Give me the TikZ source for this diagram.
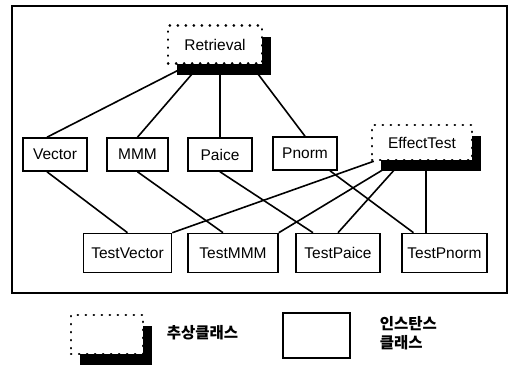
\documentclass[tikz,border=0pt]{standalone}
\usepackage{fontspec}
\setmainfont{Liberation Sans}
\newfontfamily\krfont{Noto Sans CJK KR}
\usetikzlibrary{shadows}

\begin{document}
\begin{tikzpicture}[x=1pt,y=-1pt,line width=1.6pt,font=\fontsize{15.5}{18}\selectfont]
    \tikzset{inst/.style={draw, fill=white, minimum width=64pt, minimum height=33pt, inner sep=0pt},
      testbox/.style={inst, minimum height=39pt},
      abstr/.style={draw, fill=white, line width=2.5pt, dash pattern=on 0.3pt off 7.7pt, line cap=round,
        minimum height=38pt, inner sep=0pt,
        drop shadow={shadow xshift=9pt, shadow yshift=-11pt, fill=black, opacity=1}},
      kr/.style={font=\krfont\bfseries\fontsize{15.5}{19}\selectfont, anchor=west, align=left, inner sep=0pt}}
    \useasboundingbox (0,0) rectangle (509,367);
    \draw (12,6) rectangle (507,293);
    % classes
    \node[abstr, minimum width=94pt] (ret) at (215,44.5) {Retrieval};
    \node[abstr, minimum width=100pt, minimum height=35pt] (effect) at (422,142.5) {EffectTest};
    \node[inst] (vector) at (55,154.5) {Vector};
    \node[inst, minimum width=61pt] (mmm) at (137.5,154.5) {MMM};
    \node[inst] (paice) at (220,154.5) {Paice};
    \node[inst] (pnorm) at (305,153.5) {Pnorm};
    \node[testbox, minimum width=88pt] (tvector) at (127.5,253) {TestVector};
    \node[testbox, minimum width=90pt] (tmmm) at (233,253) {TestMMM};
    \node[testbox, minimum width=84pt] (tpaice) at (338,253) {TestPaice};
    \node[testbox, minimum width=85pt] (tpnorm) at (444.5,253) {TestPnorm};
    \draw ([xshift=-26pt]ret.south) -- ([xshift=-8pt]vector.north);
    \draw ([xshift=-15pt]ret.south) -- (mmm.north);
    \draw (paice.north) -- (paice.north |- ret.south);
    \draw ([xshift=36pt]ret.south) -- (pnorm.north);
    \draw ([xshift=-8pt]vector.south) -- (tvector.north);
    \draw (mmm.south) -- ([xshift=-10pt]tmmm.north);
    \draw (paice.south) -- ([xshift=-25pt]tpaice.north);
    \draw ([xshift=25pt]pnorm.south) -- ([xshift=-31pt]tpnorm.north);
    \draw ([xshift=3pt]effect.south west) -- (tvector.north east);
    \draw ([xshift=-25pt]effect.south) -- (tmmm.north east);
    \draw ([xshift=-20pt]effect.south) -- (tpaice.north);
    \draw ([xshift=4pt]effect.south) -- ([xshift=4pt]effect.south |- tpnorm.north);
    % legend
    \node[abstr, minimum width=72pt, minimum height=39pt] (labstr) at (107,334.5) {};
    \node[kr] (tabstr) at (166,333) {추상클래스};
    \node[inst, minimum width=67pt, minimum height=45pt] (linst) at (316.5,335.5) {};
    \node[kr] (tinst) at (379,333) {인스탄스\\클래스};
\end{tikzpicture}
\end{document}
